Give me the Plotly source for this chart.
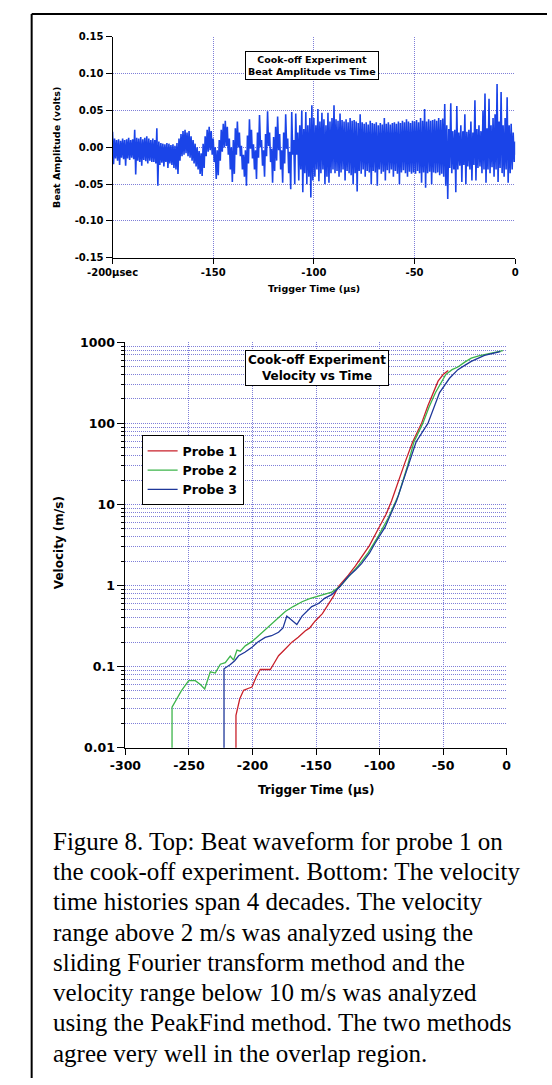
import plotly.graph_objects as go

# ---------------- data: top panel (beat waveform, 1 us grid, envelope)
beat_t_us = list(range(-200, 1))
beat_upper_v = [
    0.021, 0.012, 0.010, 0.011, 0.009, 0.012, 0.010, 0.011, 0.013, 0.010,
    0.011, 0.024, 0.013, 0.012, 0.014, 0.011, 0.013, 0.015, 0.012, 0.010,
    0.012, 0.010, 0.026, 0.008, 0.006, 0.005, 0.004, 0.006, 0.005, 0.003,
    0.004, 0.002, 0.006, 0.012, 0.018, 0.022, 0.024, 0.020, 0.022, 0.015,
    0.010, 0.005, 0.000, -0.005, -0.008, 0.005, 0.015, 0.024, 0.028, 0.022,
    0.012, 0.000, -0.004, 0.010, 0.024, 0.032, 0.036, 0.028, 0.012, 0.000,
    0.010, 0.026, 0.035, 0.020, 0.002, -0.010, -0.004, 0.016, 0.038, 0.024,
    0.004, -0.004, 0.020, 0.044, 0.010, -0.004, 0.018, 0.049, 0.020, -0.002,
    0.014, 0.028, 0.042, 0.018, -0.004, 0.020, 0.045, 0.012, -0.006, 0.048,
    0.010, 0.046, 0.020, 0.030, 0.050, 0.025, 0.048, 0.030, 0.040, 0.057,
    0.040, 0.030, 0.052, 0.035, 0.047, 0.038, 0.030, 0.047, 0.035, 0.040,
    0.057, 0.038, 0.036, 0.046, 0.037, 0.035, 0.038, 0.034, 0.040, 0.036,
    0.037, 0.035, 0.033, 0.045, 0.034, 0.032, 0.034, 0.031, 0.036, 0.033,
    0.032, 0.034, 0.030, 0.033, 0.031, 0.040, 0.032, 0.034, 0.031, 0.033,
    0.034, 0.032, 0.035, 0.033, 0.036, 0.034, 0.038, 0.035, 0.033, 0.036,
    0.035, 0.037, 0.034, 0.040, 0.036, 0.052, 0.035, 0.038, 0.036, 0.037,
    0.038, 0.036, 0.040, 0.037, 0.039, 0.059, 0.030, 0.025, 0.060, 0.022,
    0.024, 0.056, 0.020, 0.030, 0.022, 0.045, 0.021, 0.024, 0.035, 0.020,
    0.064, 0.025, 0.030, 0.022, 0.050, 0.073, 0.026, 0.066, 0.030, 0.040,
    0.045, 0.086, 0.035, 0.075, 0.030, 0.040, 0.068, 0.030, 0.032, 0.020, 0.008,
]
beat_lower_v = [
    -0.023, -0.015, -0.018, -0.024, -0.014, -0.016, -0.025, -0.015, -0.017, -0.014,
    -0.016, -0.037, -0.018, -0.020, -0.025, -0.017, -0.019, -0.022, -0.018, -0.020,
    -0.020, -0.022, -0.052, -0.024, -0.021, -0.026, -0.020, -0.028, -0.022, -0.024,
    -0.028, -0.030, -0.036, -0.018, -0.012, -0.010, -0.008, -0.012, -0.014, -0.018,
    -0.022, -0.026, -0.030, -0.036, -0.039, -0.028, -0.012, -0.006, -0.004, -0.010,
    -0.020, -0.043, -0.038, -0.018, -0.006, 0.000, 0.002, -0.010, -0.030, -0.047,
    -0.036, -0.010, 0.000, -0.012, -0.030, -0.040, -0.052, -0.022, -0.002, -0.015,
    -0.030, -0.043, -0.014, 0.000, -0.025, -0.040, -0.012, 0.002, -0.020, -0.048,
    -0.032, -0.018, -0.004, -0.030, -0.048, -0.022, -0.002, -0.035, -0.057, -0.010,
    -0.050, -0.010, -0.045, -0.030, -0.061, -0.035, -0.050, -0.040, -0.068, -0.045,
    -0.040, -0.030, -0.046, -0.035, -0.030, -0.050, -0.040, -0.048, -0.035, -0.030,
    -0.035, -0.032, -0.040, -0.034, -0.030, -0.045, -0.032, -0.035, -0.038, -0.050,
    -0.035, -0.060, -0.032, -0.036, -0.030, -0.040, -0.032, -0.034, -0.050, -0.032,
    -0.034, -0.052, -0.030, -0.036, -0.033, -0.045, -0.031, -0.035, -0.030, -0.040,
    -0.032, -0.036, -0.050, -0.034, -0.031, -0.035, -0.040, -0.033, -0.036, -0.034,
    -0.036, -0.032, -0.035, -0.048, -0.034, -0.055, -0.035, -0.033, -0.050, -0.034,
    -0.035, -0.034, -0.038, -0.036, -0.040, -0.052, -0.070, -0.028, -0.035, -0.030,
    -0.061, -0.030, -0.025, -0.047, -0.024, -0.050, -0.026, -0.030, -0.045, -0.024,
    -0.045, -0.028, -0.026, -0.035, -0.030, -0.048, -0.030, -0.035, -0.027, -0.040,
    -0.030, -0.047, -0.028, -0.035, -0.040, -0.030, -0.048, -0.035, -0.030, -0.020, -0.010,
]
top_xtick_vals = [-200, -150, -100, -50, 0]
top_xtick_text = ["-200\u00b5sec", "-150", "-100", "-50", "0"]
top_ytick_vals = [-0.15, -0.10, -0.05, 0.0, 0.05, 0.10, 0.15]
top_ytick_text = ["-0.15", "-0.10", "-0.05", "0.00", "0.05", "0.10", "0.15"]

# ---------------- data: bottom panel (velocity vs time)
probe1_t = [-213, -213, -210, -207, -203, -200.4, -197, -193.9, -190, -186, -183,
            -179.5, -175, -172, -169, -164, -158.6, -155, -150.8, -145, -140.3,
            -136, -132.4, -128, -124.6, -119, -114.2, -108, -101.1, -95, -90.6,
            -85, -80, -74, -70, -67, -62, -58, -54, -50, -46]
probe1_v = [0.005, 0.025, 0.04, 0.051, 0.054, 0.056, 0.075, 0.092, 0.092, 0.092, 0.11,
            0.136, 0.16, 0.18, 0.2, 0.23, 0.275, 0.3, 0.363, 0.45, 0.58,
            0.75, 0.97, 1.15, 1.34, 1.75, 2.24, 3.1, 4.97, 7.5, 11,
            20, 33, 59, 80, 100, 165, 240, 332, 400, 450]
probe2_t = [-263.3, -263.3, -256, -250.2, -245, -241, -237.6, -233.2, -229.3, -225.3,
            -221.4, -217.5, -214.9, -212.2, -209.6, -205.7, -200, -194, -187.3, -180,
            -174.2, -168, -161, -155, -148, -142, -137.6, -131, -124.5, -116.6,
            -108.8, -100.9, -93, -85.2, -78, -73, -66, -61, -56, -48, -43,
            -38.4, -33, -27.9, -22, -17.5, -10, -3]
probe2_v = [0.005, 0.0316, 0.05, 0.067, 0.067, 0.06, 0.053, 0.086, 0.083, 0.107,
            0.112, 0.135, 0.12, 0.16, 0.155, 0.18, 0.206, 0.25, 0.313, 0.39,
            0.478, 0.55, 0.63, 0.69, 0.74, 0.79, 0.83, 0.98, 1.28, 1.77,
            2.57, 4.1, 6.9, 13, 30, 59, 100, 160, 240, 400, 460,
            496, 570, 638, 680, 701, 745, 790]
probe3_t = [-222.4, -222.4, -217.4, -214, -210.9, -206, -200.4, -196, -190, -185,
            -179.5, -176, -173, -169, -165.1, -161, -157, -153.4, -148, -143,
            -137.6, -131.2, -124.5, -119, -114.2, -108, -103.7, -95.8, -86.7, -78,
            -71.3, -62, -52.8, -45, -38.4, -33, -27.9, -17.5, -5]
probe3_v = [0.005, 0.094, 0.106, 0.118, 0.136, 0.15, 0.173, 0.2, 0.229, 0.24,
            0.265, 0.3, 0.42, 0.37, 0.33, 0.42, 0.48, 0.55, 0.6, 0.7,
            0.77, 0.97, 1.3, 1.55, 1.86, 2.5, 3.3, 5.2, 11, 28,
            59, 100, 240, 360, 460, 520, 582, 690, 770]
bot_xtick_vals = [-300, -250, -200, -150, -100, -50, 0]
bot_xtick_text = ["-300", "-250", "-200", "-150", "-100", "-50", "0"]
bot_ytick_vals = [0.01, 0.1, 1, 10, 100, 1000]
bot_ytick_text = ["0.01", "0.1", "1", "10", "100", "1000"]

probe_names = ["Probe 1", "Probe 2", "Probe 3"]
probe_colors = ["#c8202a", "#3cb44a", "#1e3799"]

caption_lines = [
    "Figure 8. Top: Beat waveform for probe 1 on",
    "the cook-off experiment. Bottom: The velocity",
    "time histories span 4 decades. The velocity",
    "range above 2 m/s was analyzed using the",
    "sliding Fourier transform method and the",
    "velocity range below 10 m/s was analyzed",
    "using the PeakFind method. The two methods",
    "agree very well in the overlap region.",
]

# ---------------- figure
W, H = 552, 1085
def px(x):
    return x / W
def py(y):
    return 1 - y / H

GRID = "#7f7fd8"
GRID_DASH = "1px,1px"
SANS = "DejaVu Sans"

fig = go.Figure()

zz_x, zz_y = [], []
for t, u, l in zip(beat_t_us, beat_upper_v, beat_lower_v):
    zz_x += [t, t + 0.5]
    zz_y += [u, l]
fig.add_trace(go.Scatter(x=zz_x, y=zz_y, mode="lines", xaxis="x", yaxis="y",
                         line=dict(color="#1a44e8", width=1.6), showlegend=False,
                         hoverinfo="skip"))

for t, v, name, col in zip([probe1_t, probe2_t, probe3_t], [probe1_v, probe2_v, probe3_v],
                           probe_names, probe_colors):
    fig.add_trace(go.Scatter(x=t, y=v, mode="lines", name=name, xaxis="x2", yaxis="y2",
                             line=dict(color=col, width=1.3), hoverinfo="skip"))

axis_common = dict(showline=True, linecolor="black", linewidth=1, ticks="outside",
                   tickcolor="black", zeroline=False, showgrid=True, gridcolor=GRID,
                   griddash=GRID_DASH, gridwidth=1, fixedrange=True)

minor_vals = [m * 10 ** k for k in range(-2, 3) for m in range(2, 10)]

fig.update_layout(
    width=W, height=H, margin=dict(l=0, r=0, t=0, b=0),
    paper_bgcolor="white", plot_bgcolor="white",
    xaxis=dict(domain=[px(91.7), px(518.3)], range=[-200, 0], anchor="y",
               tickvals=top_xtick_vals, ticktext=top_xtick_text, ticklen=5,
               tickfont=dict(family=SANS, size=10, color="black", weight="bold"),
               **axis_common),
    yaxis=dict(domain=[py(253.3), py(29.3)], range=[-0.15, 0.15], anchor="x",
               tickvals=top_ytick_vals, ticktext=top_ytick_text, ticklen=6,
               tickfont=dict(family=SANS, size=10, color="black", weight="bold"),
               **axis_common),
    xaxis2=dict(domain=[px(105.3), px(509.3)], range=[-300, 0], anchor="y2",
                tickvals=bot_xtick_vals, ticktext=bot_xtick_text, ticklen=6,
                tickfont=dict(family=SANS, size=12.5, color="black", weight="bold"),
                **axis_common),
    yaxis2=dict(domain=[py(750), py(339)], type="log", range=[-2, 3], anchor="x2",
                tickvals=bot_ytick_vals, ticktext=bot_ytick_text, ticklen=7,
                tickfont=dict(family=SANS, size=12.5, color="black", weight="bold"),
                minor=dict(tickvals=minor_vals, ticks="outside", ticklen=3,
                           tickcolor="black", showgrid=True, gridcolor=GRID,
                           griddash=GRID_DASH, gridwidth=1),
                **axis_common),
    legend=dict(x=px(122.5), y=py(433.3), xanchor="left", yanchor="top",
                bgcolor="white", bordercolor="black", borderwidth=1,
                font=dict(family=SANS, size=12.5, color="black", weight="bold"),
                itemwidth=30, tracegroupgap=0),
)

def ann(text, x, y, size, box=False, angle=0, family=SANS, weight="bold", xanchor="center"):
    d = dict(text=text, x=px(x), y=py(y), xref="paper", yref="paper", showarrow=False,
             xanchor=xanchor, yanchor="middle", textangle=angle,
             font=dict(family=family, size=size, color="black", weight=weight))
    if box:
        d.update(bordercolor="black", borderwidth=1, bgcolor="white", borderpad=2)
    fig.add_annotation(**d)

ann("Cook-off Experiment<br>Beat Amplitude vs Time", 302.8, 58, 9.5, box=True)
ann("Cook-off Experiment<br>Velocity vs Time", 308, 365, 12, box=True)
ann("Trigger Time (\u00b5s)", 305, 284.3, 9.5)
ann("Beat Amplitude (volts)", 31.7, 141, 9.5, angle=-90)
ann("Trigger Time (\u00b5s)", 307, 792.7, 12)
ann("Velocity (m/s)", 35.2, 542.5, 12, angle=-90)

for i, line in enumerate(caption_lines):
    ann(line, 26, 845 + i * 30.7, 25, family="Liberation Serif", weight="normal",
        xanchor="left")

# page frame: only the top and left edges are visible in the reference
fig.add_shape(type="line", xref="paper", yref="paper", x0=px(6), x1=1.0,
              y0=py(6), y1=py(6), line=dict(color="black", width=2))
fig.add_shape(type="line", xref="paper", yref="paper", x0=px(6), x1=px(6),
              y0=0.0, y1=py(6), line=dict(color="black", width=2))

fig.write_html("out.html", config={"displayModeBar": False},
               post_script="document.body.style.margin='0px';")
